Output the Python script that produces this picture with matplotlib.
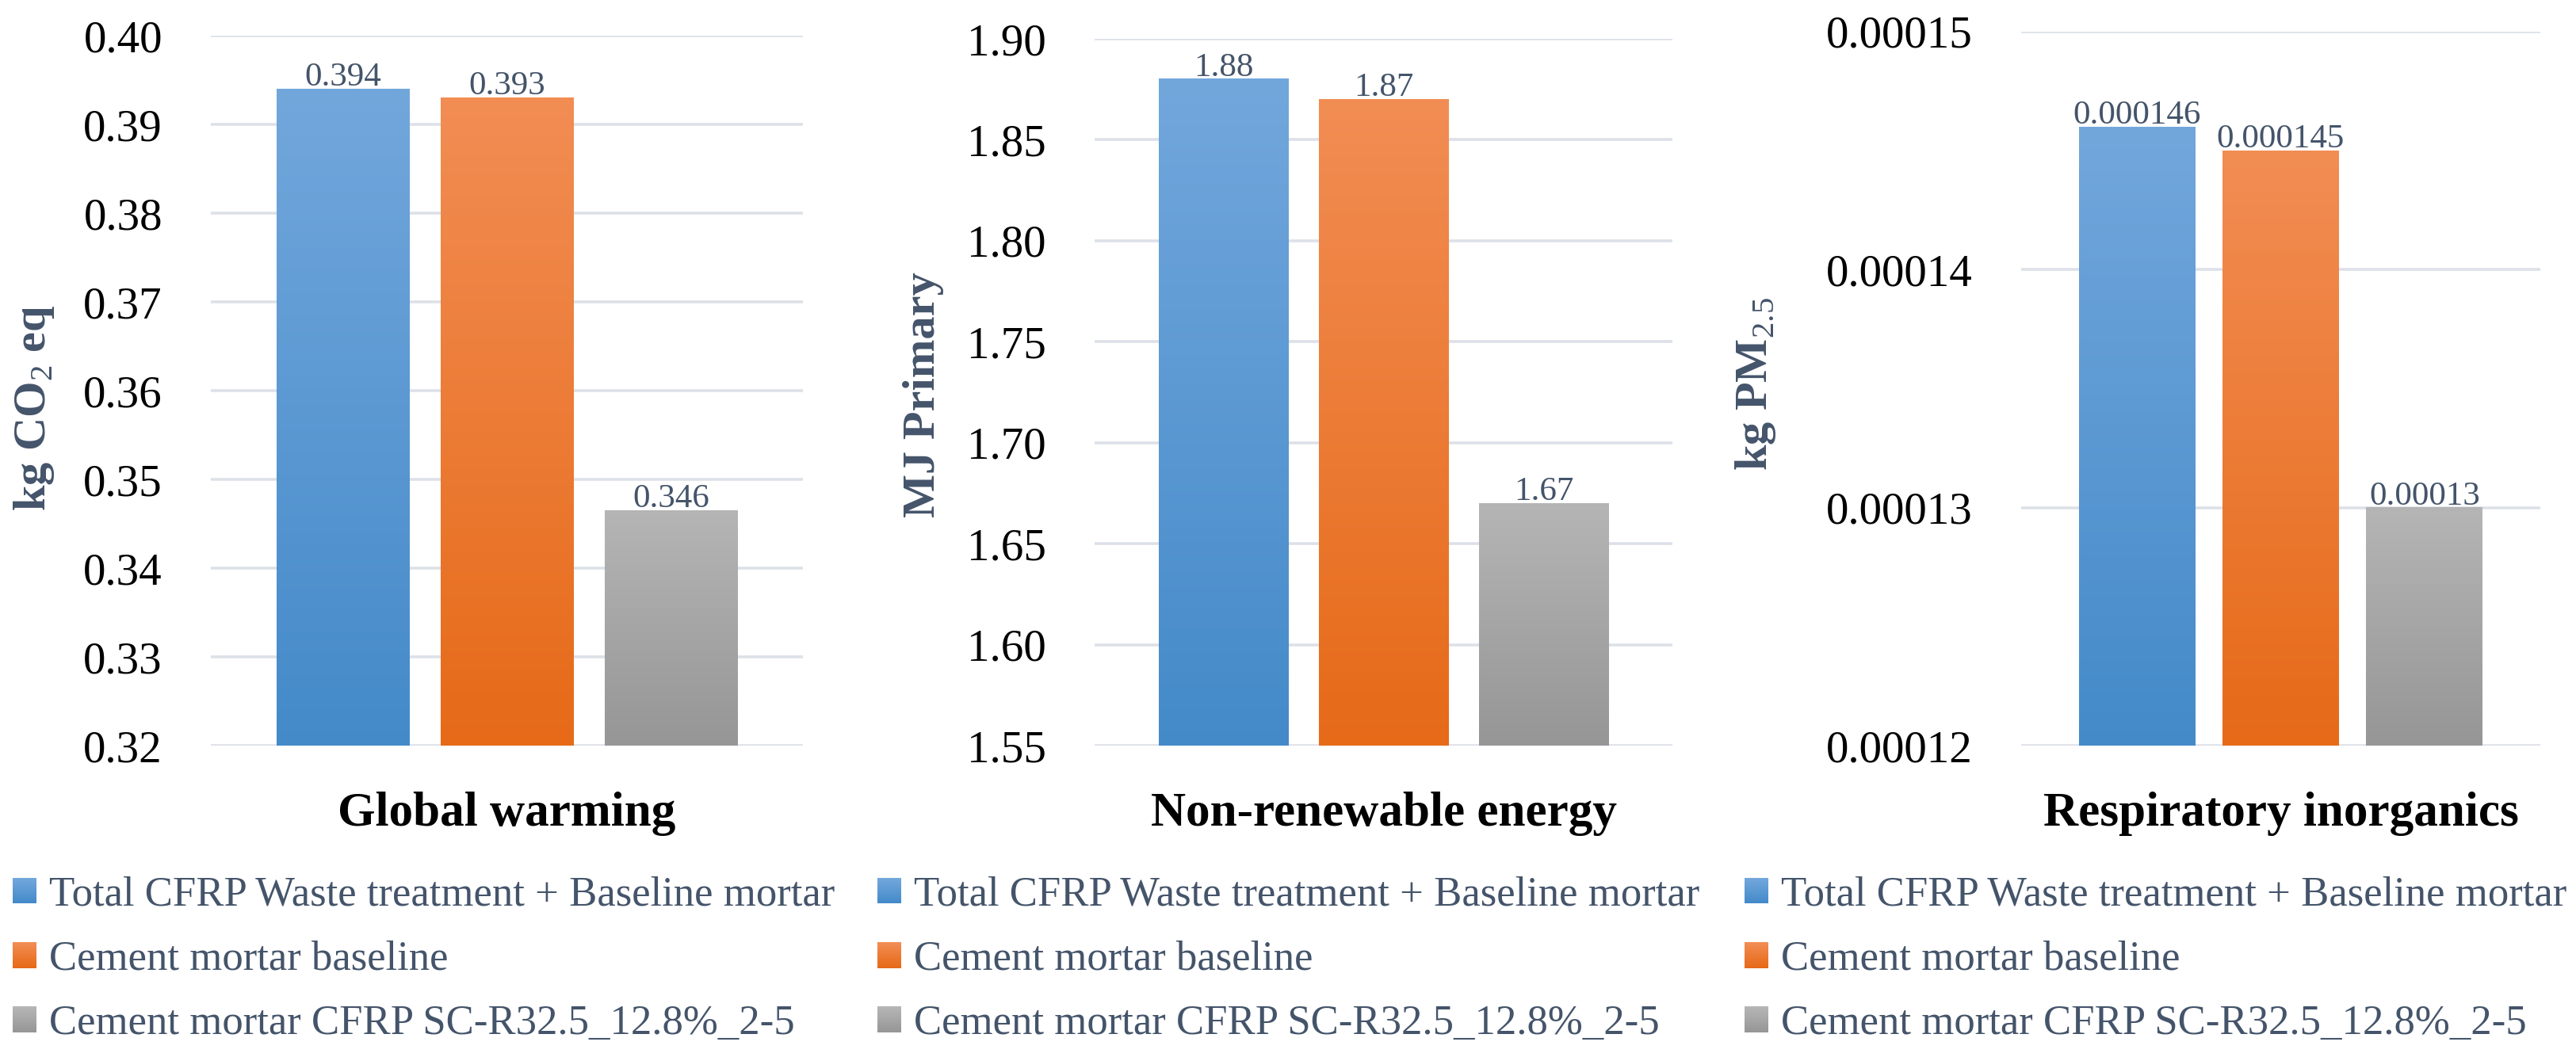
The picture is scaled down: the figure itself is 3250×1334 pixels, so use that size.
import numpy as np
import matplotlib
matplotlib.use("Agg")
import matplotlib.pyplot as plt
from matplotlib.patches import Rectangle
from matplotlib.legend_handler import HandlerBase
from matplotlib.colors import to_rgb

plt.rcParams['font.family'] = ['Liberation Serif', 'DejaVu Serif']
plt.rcParams['mathtext.fontset'] = 'custom'
plt.rcParams['mathtext.rm'] = 'Liberation Serif'
plt.rcParams['mathtext.bf'] = 'Liberation Serif:bold'

# data
series = ['Total CFRP Waste treatment + Baseline mortar',
          'Cement mortar baseline',
          'Cement mortar CFRP SC-R32.5_12.8%_2-5']
titles = ['Global warming', 'Non-renewable energy', 'Respiratory inorganics']
ylabels = ['kg CO$_2$ eq', 'MJ Primary', 'kg PM$_{2.5}$']
gw_vals = [0.394, 0.393, 0.3465]
nre_vals = [1.88, 1.87, 1.67]
ri_vals = [0.000146, 0.000145, 0.00013]
gw_labels = ['0.394', '0.393', '0.346']
nre_labels = ['1.88', '1.87', '1.67']
ri_labels = ['0.000146', '0.000145', '0.00013']
gw_ticks = [0.32, 0.33, 0.34, 0.35, 0.36, 0.37, 0.38, 0.39, 0.40]
nre_ticks = [1.55, 1.60, 1.65, 1.70, 1.75, 1.80, 1.85, 1.90]
ri_ticks = [0.00012, 0.00013, 0.00014, 0.00015]
tick_fmt = ['{:.2f}', '{:.2f}', '{:.5f}']

# gradient colours (top, bottom)
grads = [('#72A7DC', '#448AC9'), ('#F28D54', '#E66A18'), ('#B5B5B5', '#969696')]
label_col = '#44546A'
grid_col = '#DDE1E8'

W, H = 3250, 1334
fig = plt.figure(figsize=(W / 100, H / 100), dpi=100)

# axes boxes in pixels: left, right, top, bottom
boxes = [(266, 1013, 45, 941), (1381, 2110, 49, 941), (2550, 3205, 40, 941)]
ylab_pos = [(43, 515), (1165, 498), (2215, 485)]
legend_x = [16, 1107, 2201]


def grad_img(top, bottom, n=256):
    t = np.linspace(0, 1, n)[:, None]
    a = np.array(to_rgb(top))
    b = np.array(to_rgb(bottom))
    return (a * (1 - t) + b * t).reshape(n, 1, 3)


class GradHandler(HandlerBase):
    def __init__(self, top, bottom):
        super().__init__()
        self.top, self.bottom = top, bottom

    def create_artists(self, legend, orig_handle, xdescent, ydescent,
                       width, height, fontsize, trans):
        n = 16
        a = np.array(to_rgb(self.top))
        b = np.array(to_rgb(self.bottom))
        arts = []
        for i in range(n):
            t = i / (n - 1)
            c = b * (1 - t) + a * t
            r = Rectangle((-xdescent, -ydescent + height * i / n), width,
                          height / n * 1.05, facecolor=c, edgecolor='none',
                          transform=trans)
            arts.append(r)
        return arts


all_vals = [gw_vals, nre_vals, ri_vals]
all_labels = [gw_labels, nre_labels, ri_labels]
all_ticks = [gw_ticks, nre_ticks, ri_ticks]

for k in range(3):
    l, r, t, b = boxes[k]
    ax = fig.add_axes([l / W, 1 - b / H, (r - l) / W, (b - t) / H])
    x = np.arange(3)
    ticks = all_ticks[k]
    ymin, ymax = ticks[0], ticks[-1]
    bars = ax.bar(x, all_vals[k], width=0.81, bottom=0, alpha=0)
    for i, p in enumerate(bars.patches):
        x0 = p.get_x()
        ax.imshow(grad_img(*grads[i]), extent=[x0, x0 + p.get_width(), ymin, p.get_height()],
                  aspect='auto', zorder=2, interpolation='bilinear')
        ax.annotate(all_labels[k][i], (x0 + p.get_width() / 2, p.get_height()),
                    xytext=(0, 3), textcoords='offset points', ha='center', va='baseline',
                    fontsize=31, color=label_col)
    ax.set_xlim(-0.805, 2.805)
    ax.set_ylim(ymin, ymax)
    ax.set_yticks(ticks)
    ax.set_yticklabels([tick_fmt[k].format(v) for v in ticks], fontsize=41)
    ax.set_xticks([])
    ax.tick_params(axis='y', length=0, pad=44)
    ax.yaxis.grid(True, color=grid_col, lw=2.6)
    ax.set_axisbelow(True)
    for s in ax.spines.values():
        s.set_visible(False)

    fig.text(ylab_pos[k][0] / W, 1 - ylab_pos[k][1] / H, ylabels[k], rotation=90,
             ha='center', va='center', fontsize=42, fontweight='bold', color=label_col)
    fig.text((l + r) / 2 / W, 1 - 1042 / H, titles[k], ha='center', va='baseline',
             fontsize=44, fontweight='bold', color='black')

    handles = [Rectangle((0, 0), 1, 1) for _ in series]
    hmap = {h: GradHandler(*grads[i]) for i, h in enumerate(handles)}
    fig.legend(handles, series, handler_map=hmap, loc='center left',
               bbox_to_anchor=(legend_x[k] / W, 1 - 1211 / H), frameon=False,
               fontsize=38, labelcolor=label_col, handlelength=0.57, handleheight=0.57,
               handletextpad=0.3, labelspacing=0.63, borderpad=0, borderaxespad=0)

fig.savefig('out.png', dpi=100)
